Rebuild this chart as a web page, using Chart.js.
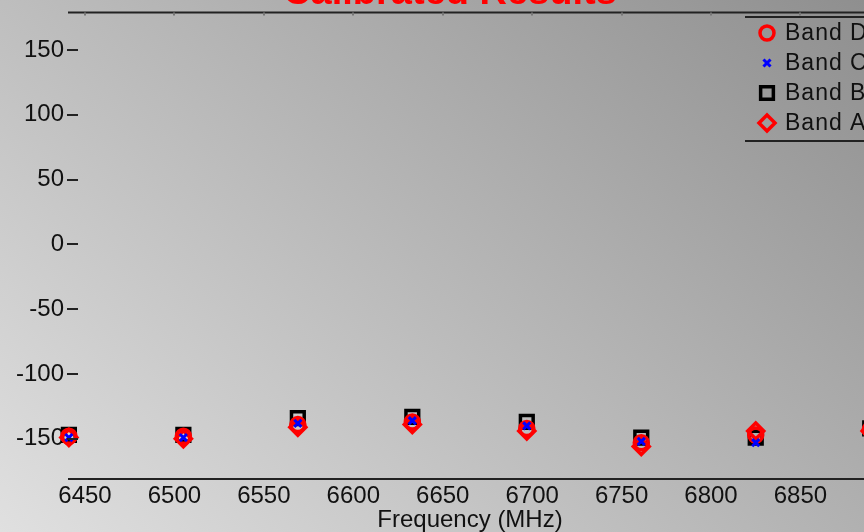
<!DOCTYPE html>
<html>
<head>
<meta charset="utf-8">
<title>Calibrated Results</title>
<script src="https://cdn.jsdelivr.net/npm/chart.js@4/dist/chart.umd.min.js"></script>
<style>
  html, body { margin: 0; padding: 0; overflow: hidden; background: #c0c0c0; }
  #wrap { width: 900px; height: 532px; }
</style>
</head>
<body>
<div id="wrap"><canvas id="c" width="900" height="532"></canvas></div>
<script>
const titleText = 'Calibrated Results';
const xTitle = 'Frequency (MHz)';

const freqs = [6441, 6505, 6569, 6633, 6697, 6761, 6825, 6889];
const bandD = [-148, -148, -139, -137, -142, -153, -147, -143];
const bandC = [-149, -149, -138, -136, -140, -152, -153, -145];
const bandB = [-147, -147, -134, -133, -137, -149, -149, -142];
const bandA = [-149, -150, -141, -139, -144, -156, -144, -144];

const xTicks = [6450, 6500, 6550, 6600, 6650, 6700, 6750, 6800, 6850];
const yTicks = [-150, -100, -50, 0, 50, 100, 150];

const FONT = 'Liberation Sans, Arial, sans-serif';

const toPoints = ys => freqs.map((f, i) => ({ x: f, y: ys[i] }));

// gray gradient behind everything, light bottom-left to dark top-right
const backgroundPlugin = {
  id: 'bg',
  beforeDraw: chart => {
    const ctx = chart.ctx;
    const g = ctx.createLinearGradient(0, 532, 625, -202);
    g.addColorStop(0, '#e0e0e0');
    g.addColorStop(1, '#8f8f8f');
    ctx.save();
    ctx.fillStyle = g;
    ctx.fillRect(0, 0, chart.width, chart.height);
    ctx.restore();
  },
};

// box lines, inward ticks, title and legend (matlab style)
const framePlugin = {
  id: 'frame',
  afterDraw: chart => {
    const { ctx, chartArea: a, scales } = chart;
    ctx.save();
    ctx.strokeStyle = '#222';
    ctx.lineWidth = 2;
    ctx.beginPath();
    ctx.moveTo(a.left, a.top);
    ctx.lineTo(a.right, a.top);
    ctx.moveTo(a.left, a.bottom);
    ctx.lineTo(a.right, a.bottom);
    for (const t of yTicks) {
      const y = Math.round(scales.y.getPixelForValue(t));
      ctx.moveTo(a.left - 1, y);
      ctx.lineTo(a.left + 10, y);
    }
    ctx.stroke();

    ctx.strokeStyle = '#777';
    ctx.beginPath();
    for (const t of xTicks) {
      const x = Math.round(scales.x.getPixelForValue(t));
      ctx.moveTo(x, a.top);
      ctx.lineTo(x, a.top + 3);
    }
    ctx.stroke();

    ctx.fillStyle = '#ff0000';
    ctx.font = 'bold 38px ' + FONT;
    ctx.textAlign = 'center';
    ctx.textBaseline = 'alphabetic';
    ctx.fillText(titleText, 450, 4);

    // legend
    const lx = 745, ly = 17, lh = 124;
    ctx.strokeStyle = '#222';
    ctx.lineWidth = 2;
    ctx.beginPath();
    ctx.moveTo(lx, ly);
    ctx.lineTo(chart.width, ly);
    ctx.moveTo(lx, ly + lh);
    ctx.lineTo(chart.width, ly + lh);
    ctx.stroke();

    const order = ['Band D', 'Band C', 'Band B', 'Band A'];
    ctx.font = '23px ' + FONT;
    ctx.letterSpacing = '1px';
    ctx.textAlign = 'left';
    ctx.textBaseline = 'middle';
    order.forEach((name, i) => {
      const ds = chart.data.datasets.find(d => d.label === name);
      const y = 33 + i * 30;
      ctx.strokeStyle = ds.borderColor;
      ctx.fillStyle = 'rgba(0,0,0,0)';
      ctx.lineWidth = ds.borderWidth;
      Chart.helpers.drawPoint(ctx, { pointStyle: ds.pointStyle, radius: ds.pointRadius, rotation: 0, borderWidth: ds.borderWidth }, 767, y);
      ctx.fillStyle = '#111';
      ctx.fillText(name, 785, y + 1);
    });
    ctx.restore();
  },
};

const mk = (label, ys, color, style, radius, width, order) => ({
  label,
  data: toPoints(ys),
  pointStyle: style,
  pointRadius: radius,
  pointHoverRadius: radius,
  borderColor: color,
  backgroundColor: 'rgba(0,0,0,0)',
  borderWidth: width,
  showLine: false,
  clip: false,
  order,
});

new Chart(document.getElementById('c'), {
  type: 'scatter',
  data: {
    datasets: [
      mk('Band D', bandD, '#ff0000', 'circle', 7, 3.5, 1),
      mk('Band C', bandC, '#0000ff', 'crossRot', 5, 3, 0),
      mk('Band B', bandB, '#000000', 'rect', 9, 3.5, 3),
      mk('Band A', bandA, '#ff0000', 'rectRot', 8, 3.5, 2),
    ],
  },
  options: {
    responsive: false,
    animation: false,
    layout: { padding: { top: 12, right: 28, left: 0, bottom: 0 } },
    scales: {
      x: {
        type: 'linear',
        min: 6440.5,
        max: 6890,
        afterBuildTicks: s => { s.ticks = xTicks.map(v => ({ value: v })); },
        afterFit: s => { s.height = 53; },
        grid: { display: false, drawTicks: false },
        border: { display: false },
        ticks: {
          padding: 3,
          color: '#111',
          font: { family: FONT, size: 24 },
          maxRotation: 0,
          autoSkip: false,
          callback: v => String(v),
        },
        title: {
          display: true,
          text: xTitle,
          color: '#111',
          font: { family: FONT, size: 24, lineHeight: 1 },
          padding: { top: 0, bottom: 0 },
        },
      },
      y: {
        min: -181,
        max: 179,
        afterBuildTicks: s => { s.ticks = yTicks.map(v => ({ value: v })); },
        afterFit: s => { s.width = 68; s.paddingTop = 0; s.paddingBottom = 0; },
        grid: { display: false, drawTicks: false },
        border: { display: false },
        ticks: {
          padding: 4,
          color: '#111',
          font: { family: FONT, size: 24 },
          callback: v => String(v),
        },
      },
    },
    plugins: {
      legend: { display: false },
      title: { display: false },
      tooltip: { enabled: false },
    },
  },
  plugins: [backgroundPlugin, framePlugin],
});
</script>
</body>
</html>
